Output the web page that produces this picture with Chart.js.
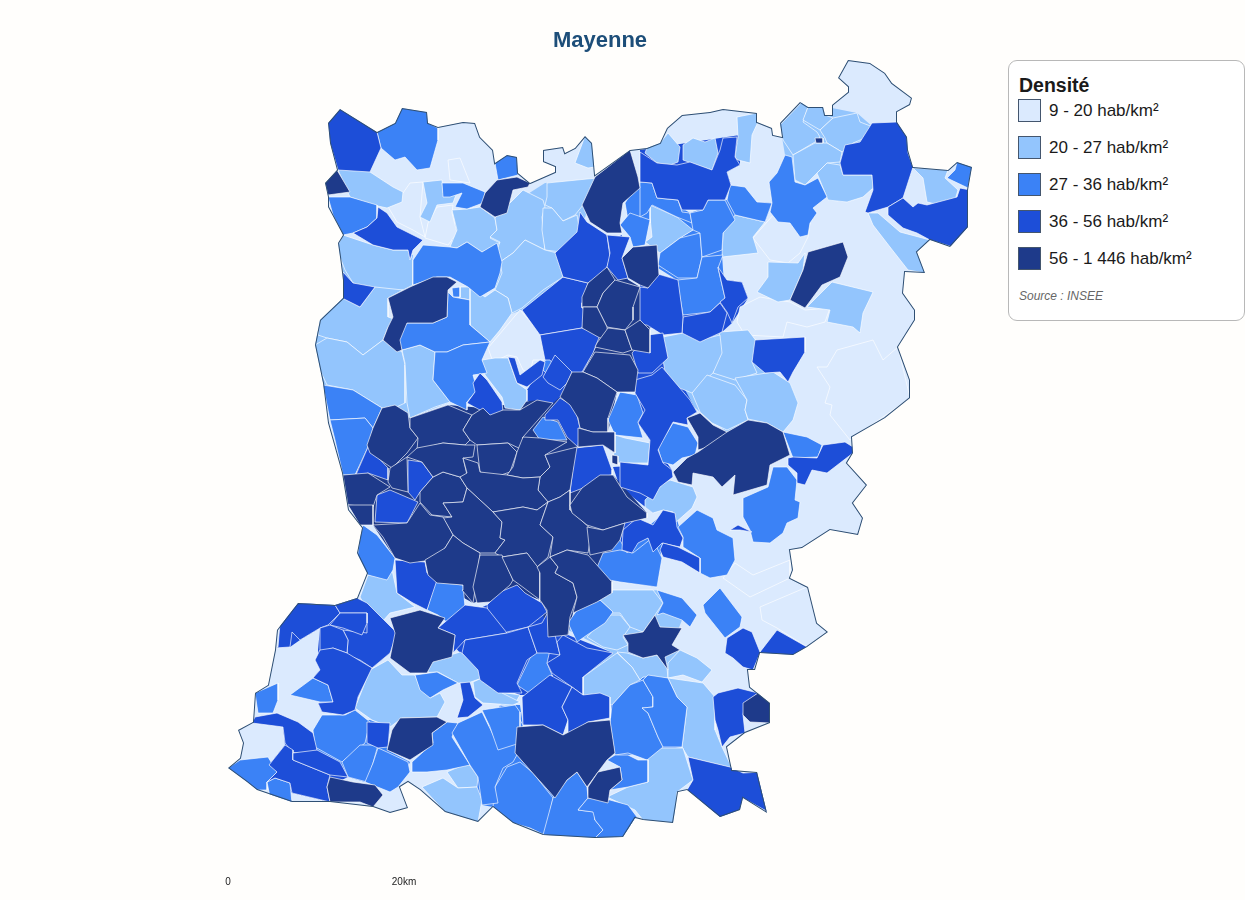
<!DOCTYPE html>
<html lang="fr">
<head>
<meta charset="utf-8">
<title>Mayenne</title>
<script src="https://cdn.jsdelivr.net/npm/chart.js@4"></script>
<style>
  html, body { margin: 0; padding: 0; background: #fffefc; width: 1245px; height: 900px; overflow: hidden; font-family: "Liberation Sans", Arial, sans-serif; }
  #carte { position: absolute; left: 0; top: 0; }
  #legende { position: absolute; left: 1008px; top: 60px; width: 235px; height: 259px; background: #fff; border: 1px solid #b8b8b8; border-radius: 9px; color: #1a1a1a; }
  #legende h3 { position: absolute; left: 10px; top: 13px; margin: 0; font-size: 19.5px; line-height: 22px; font-weight: bold; }
  .ligne { position: absolute; left: 9px; height: 23px; line-height: 23px; font-size: 17px; white-space: nowrap; }
  .ligne i { display: inline-block; width: 21px; height: 21px; border: 1px solid #44566e; vertical-align: top; margin-right: 8px; }
  #source { position: absolute; left: 10px; top: 228px; font-size: 12px; font-style: italic; color: #666; }
</style>
</head>
<body>
<canvas id="carte" width="1200" height="900"></canvas>
<div id="legende"><h3>Densité</h3><div id="lignes"></div><div id="source">Source : INSEE</div></div>
<script>
const classes = ["9 - 20 hab/km²", "20 - 27 hab/km²", "27 - 36 hab/km²", "36 - 56 hab/km²", "56 - 1 446 hab/km²"]
const couleurs = ["#dbeafe", "#93c5fd", "#3b82f6", "#1d4ed8", "#1e3a8a"]
const echelleValeurs = [228, 404]
const echelleLabels = ["0", "20km"]

// contour du departement (x, y en unites de carte)
const contour = [340,109,377,132,395,123,402,108,427,112,428,123,438,127,463,122,475,123,480,137,493,150,495,163,507,155,517,157,518,173,530,183,555,172,555,167,543,162,543,150,563,147,565,153,575,148,585,136,592,143,595,175,630,150,647,148,660,143,667,128,682,115,710,112,723,109,757,113,757,122,772,128,773,135,782,137,780,123,800,102,808,107,823,107,825,115,832,115,832,105,848,92,848,87,838,78,848,60,870,63,885,73,892,83,912,98,910,105,897,112,897,122,907,137,908,150,913,167,948,170,957,162,972,167,968,190,968,227,950,247,930,240,917,252,925,273,905,272,903,293,915,310,915,320,898,347,910,380,910,398,885,418,852,437,853,453,847,463,867,485,853,503,863,518,858,535,830,530,802,548,790,550,793,570,790,578,808,587,817,623,828,632,807,647,793,655,760,653,755,670,748,670,750,687,770,703,770,723,745,733,727,747,732,770,757,772,767,813,743,798,740,810,720,817,687,790,678,792,673,823,643,820,635,818,623,837,595,838,543,835,513,823,493,807,478,822,445,812,420,790,408,782,400,787,408,808,390,813,373,807,330,802,292,802,257,790,247,782,228,768,240,758,243,743,238,730,253,722,255,693,268,685,275,650,277,630,298,603,335,605,357,598,367,573,357,553,362,528,348,510,342,473,328,423,323,383,315,345,320,320,343,298,343,280,340,257,338,243,343,235,328,207,328,197,325,183,337,170,330,143,328,123]

// zones de fond sous les communes, pour boucher les joints
const fonds1 = [
  [495,215,545,183,598,180,580,232,563,277,522,310,500,318,495,290,497,250,482,252,452,240,457,210],
  [318,320,345,295,340,240,413,255,413,290,388,298,388,340,402,352,435,352,433,380,450,402,410,418,380,408,323,385,315,345],
  [568,630,600,600,657,590,682,620,672,645,680,650,668,680,640,680,612,705,583,695,583,677,613,653],
  [780,125,802,102,857,113,873,127,860,142,843,165,872,175,873,188,847,202,828,200,817,173,805,185,795,180,785,155],
  [663,337,720,332,757,342,752,362,790,383,798,403,783,432,748,420,727,432,700,412,667,383]
]
const fonds2 = [
  [470,765,500,705,520,705,523,725,515,753,530,770,555,798,588,798,608,803,637,817,623,837,545,835,493,807,482,805],
  [610,695,648,675,677,697,687,707,682,747,628,755,615,755],
  [313,730,370,720,390,727,387,750,410,762,398,787,365,782,348,777,317,750],
  [640,182,690,213,725,200,772,203,765,222,735,220,722,255,725,298,710,312,683,317,677,280,658,268,680,238,693,230,650,205],
  [593,577,603,553,620,540,650,525,662,515,675,513,683,540,662,543,660,560,657,587]
]
const fonds3 = [
  [438,628,487,605,547,610,568,635,613,653,583,677,583,695,520,695,480,680,462,655],
  [255,717,298,722,317,750,348,777,327,787,330,802,292,793,269,765,285,745,283,727],
  [298,603,357,598,397,633,390,653,372,668,358,697,355,712,322,712,318,703,333,702,328,685,313,678,320,670,318,650,320,628,300,640,290,647,278,647],
  [640,150,740,135,740,165,727,172,731,185,725,200,703,210,640,182],
  [610,240,622,235,622,258,628,280,620,280,607,267],
  [640,285,660,275,680,280,683,317,700,342,722,332,732,323,748,298,742,282,727,280,722,300,700,312,683,315,660,330,640,325],
  [632,353,668,358,697,412,687,418,673,422,658,450,672,470,660,487,653,513,620,487,613,467,648,465,650,440,638,423,635,393],
  [540,335,600,335,583,372,560,397,545,415,527,400,527,390,545,362]
]
const fonds4 = [
  [373,428,382,408,410,418,448,405,483,408,537,400,553,403,560,397,572,372,617,392,608,432,615,453,603,445,578,447,573,490,600,477,613,475,647,513,620,540,612,550,612,593,573,613,568,635,548,637,540,600,513,590,473,603,437,583,425,560,395,558,373,525,348,505,343,475,355,477],
  [582,283,607,267,640,287,650,330,650,353,638,370,635,392,617,392,583,372,597,345,582,328]
]

const classe0 = [
  [817,367,830,387,825,403,832,405,830,415,850,440,910,398,898,347,883,360,873,340,837,350,827,367],
  [760,607,807,587,817,623,828,632,807,647,777,628,762,620],
  [735,563,753,575,790,560,790,578,750,597,723,578],
  [448,160,460,158,470,183,450,180],
  [387,205,403,193,410,183,423,182,420,217,425,237,413,230,397,222],
  [428,223,437,207,453,205,452,213,457,233,448,245,425,238],
  [740,307,760,297,790,302,805,310,830,308,825,322,807,327,787,322,783,337,745,335,737,322],
  [753,238,767,222,775,213,810,223,808,237,800,253,788,263,770,260],
  [520,310,542,335,545,360,533,360,530,373,523,370,517,357,508,355,493,362,488,348]
]

const classe1 = [
  [338,170,362,165,370,172,393,187,403,192,402,202,387,208,373,205,350,197],
  [423,182,442,180,443,193,457,192,453,203,437,205,430,222,420,217,427,203],
  [575,163,585,136,592,143,595,167,588,168],
  [452,210,467,209,480,207,495,218,497,230,490,238,500,243,482,252,467,242,457,248,450,247,457,230],
  [495,218,510,203,523,190,543,200,545,207,542,217,545,250,525,240,513,253,500,262,497,250,500,242,490,237,497,230],
  [547,183,597,178,598,185,583,205,575,215,563,221,552,208,545,205,547,197],
  [543,208,552,208,563,221,577,215,580,232,570,253,545,250,542,230],
  [500,262,513,253,525,240,545,250,557,253,563,277,543,290,522,308,512,313,508,298,495,290,502,273],
  [470,287,485,297,495,290,508,298,512,313,500,330,490,342,470,325,468,300],
  [343,235,373,245,393,250,408,250,413,260,413,285,403,290,377,293,353,283,345,270,340,257,338,245],
  [343,298,360,307,375,287,403,290,388,298,388,317,397,320,388,327,383,340,363,355,347,342,327,338,318,335,320,320],
  [315,345,327,338,347,342,363,355,383,340,402,352,405,365,405,403,390,410,382,408,353,390,327,385,320,370],
  [402,350,420,345,435,352,433,380,450,402,435,407,410,418,407,403,405,363],
  [460,287,470,287,470,300,460,298],
  [482,360,495,358,508,358,517,383,527,390,527,400,520,410,505,408,502,397,485,375],
  [645,153,648,145,660,143,668,133,680,147,678,162,670,165,657,163],
  [683,145,693,138,705,142,715,138,718,153,712,170,697,165,683,160],
  [737,117,757,113,758,122,752,135,750,163,738,160,735,157,738,137],
  [650,205,677,217,693,230,680,238,660,253,645,242,652,237,650,217],
  [735,215,765,222,753,237,758,253,722,257,723,233],
  [780,125,802,102,808,107,803,122,817,132,820,137,815,142,793,155,783,140],
  [808,107,823,107,825,115,833,118,820,130,803,120],
  [820,130,833,118,857,113,860,122,873,127,872,135,853,143,842,152,827,143,825,138],
  [793,155,815,143,827,143,842,152,840,162,827,163,817,173,805,185,795,180],
  [817,173,827,163,840,165,843,175,872,175,873,188,863,197,847,202,828,200],
  [913,168,948,170,945,178,958,190,955,200,940,205,927,202,923,178],
  [868,213,878,213,900,232,930,240,917,252,925,273,908,270,890,247,873,225],
  [768,262,798,263,805,253,803,270,790,300,778,302,757,292,768,277],
  [807,307,832,282,873,292,863,313,860,333,853,327,827,322,830,310],
  [720,332,748,330,757,342,752,362,757,373,735,380,713,373],
  [663,337,683,333,700,340,720,335,722,353,713,373,705,380,692,393,667,383,663,360],
  [692,393,707,375,735,385,747,400,745,410,748,420,727,430,712,423,700,412],
  [735,378,773,372,790,383,798,403,793,420,783,432,767,423,748,419,745,410,747,400],
  [615,435,625,438,650,443,648,463,613,463],
  [645,500,660,485,670,480,693,487,697,497,692,508,675,523,673,512,663,510,653,513,645,507],
  [368,575,387,578,392,570,397,593,415,607,390,613,382,622,370,615,360,597],
  [500,692,520,695,513,707,500,705],
  [600,600,613,590,653,590,663,603,655,615,643,632,630,627,620,613,607,613,613,612],
  [587,637,607,615,620,615,630,627,623,637,628,645,617,650,603,647],
  [617,652,627,653,643,658,657,655,667,668,668,678,643,677,640,680,632,667],
  [668,663,680,650,697,658,712,670,702,682,683,675,668,678],
  [583,677,617,653,632,667,640,680,630,685,612,705,583,695],
  [668,678,703,683,715,697,715,730,722,747,732,768,688,757,682,747,687,707,677,697],
  [648,753,657,748,683,748,693,780,677,792,675,823,643,820,635,810,607,797,628,787,648,782],
  [428,662,460,652,483,668,482,678,468,683,458,683,438,672,415,673,428,672],
  [388,660,402,675,415,675,420,688,430,698,440,693,445,702,437,717,402,718,390,727,372,720,355,708,370,670],
  [473,682,482,678,497,682,502,693,520,702,513,705,483,703,475,697],
  [447,772,468,763,478,777,477,787,458,788],
  [422,787,443,778,458,788,477,787,482,800,478,822,445,812]
]

const classe2 = [
  [377,132,395,123,402,108,427,112,428,123,438,128,438,140,430,168,417,170,405,157,395,160,381,148],
  [328,197,350,197,377,205,377,218,367,227,353,233,343,235,333,215],
  [442,183,463,183,485,192,483,203,467,209,455,207,462,193,450,197,443,197],
  [495,163,507,155,517,157,518,175,498,180],
  [413,260,423,245,450,247,457,248,467,242,482,252,497,243,502,262,500,273,495,288,480,297,468,287,450,277,437,277,413,285],
  [452,288,460,287,460,297,453,297],
  [397,338,407,323,433,323,447,317,448,292,453,297,470,300,470,325,490,342,463,345,447,352,435,352,420,345,402,350],
  [435,352,447,352,463,345,490,342,482,360,487,373,473,375,477,390,467,402,467,410,450,402,433,380],
  [545,360,552,358,557,370,548,375,543,370],
  [625,203,638,183,650,203,650,223,628,220],
  [620,225,630,213,650,220,645,245,633,247,630,237],
  [640,182,652,183,657,198,678,200,682,212,690,213,692,223,677,217,652,205,647,213,640,217],
  [660,253,680,238,700,233,702,257,697,278,678,278,658,265],
  [690,213,703,210,708,200,725,200,735,220,723,233,722,250,702,257,700,233,693,230],
  [727,200,730,185,745,187,757,202,772,203,765,222,735,215],
  [702,257,723,255,718,268,725,298,710,312,683,315,677,280,697,278],
  [785,155,792,157,795,182,805,185,818,178,827,197,813,208,817,213,810,223,808,235,800,237,790,223,778,222,770,212,772,203,769,182,777,173],
  [957,162,972,167,968,188,947,178,955,170],
  [608,420,620,392,637,395,643,413,638,422,643,438,615,435],
  [658,448,673,423,688,427,698,443,695,455,682,458,673,465,662,462],
  [533,430,543,417,558,422,567,440,540,440],
  [323,385,353,390,382,408,373,428,365,418,330,420],
  [330,420,365,418,373,428,368,447,355,475,343,475,335,440],
  [363,525,377,535,395,558,393,570,387,580,368,575,357,560,360,537],
  [435,582,463,585,465,607,467,620,453,627,438,615,427,610],
  [517,685,530,658,540,648,550,650,547,663,552,675,552,685,535,697],
  [568,623,577,610,600,600,613,612,605,623,587,635,577,642],
  [593,577,603,553,620,550,633,553,652,538,662,558,657,587,620,582],
  [657,590,682,598,697,615,690,627,682,620,663,613,657,615,663,603],
  [703,605,720,588,742,617,740,627,725,638,705,613],
  [612,705,630,685,643,680,653,697,653,707,642,708,648,713,658,737,663,747,647,760,628,753,615,755,610,723],
  [643,680,648,675,668,678,677,697,687,707,682,747,663,747,658,737,648,713,642,708,653,707,653,697],
  [607,760,615,755,628,755,638,760,648,760,648,782,628,787,610,790,622,780,620,767],
  [500,705,513,708,523,725,515,753,500,748],
  [493,807,495,787,507,767,520,762,533,773,553,798,545,835,530,828,513,823],
  [553,798,567,780,577,772,587,787,588,798,578,810,595,812,595,820,603,830,595,838,543,835],
  [588,798,610,800,628,805,637,817,623,837,595,838,603,830,595,820,593,812,578,810],
  [290,695,313,678,328,685,333,702,320,702],
  [255,693,278,683,278,700,273,713,258,713],
  [415,675,437,672,458,683,443,690,430,698,420,690],
  [313,730,322,715,345,715,355,710,370,722,365,743,342,762,315,747],
  [228,768,240,760,268,757,277,772,267,782,267,790,257,790,247,782],
  [267,782,275,778,290,783,292,803,270,797],
  [342,762,360,745,378,745,373,763,367,782,348,777],
  [378,748,387,752,408,762,410,772,398,787,390,792,365,782,373,763],
  [412,762,433,743,432,733,447,722,458,723,452,737,470,765,447,770,427,772,412,772],
  [452,733,458,723,482,712,497,743,517,743,518,753,513,762,503,768,495,787,498,803,482,805,478,777,470,765],
  [482,710,515,705,520,712,520,743,498,750,490,727],
  [783,432,807,437,822,445,818,457,793,458],
  [743,498,768,487,773,467,787,467,797,480,795,500,800,502,798,518,787,523,783,533,770,543,753,542,750,530,743,517],
  [678,527,697,510,713,518,717,530,733,538,735,560,727,575,710,578,700,573,700,558,683,547,683,537]
]

const classe3 = [
  [340,109,377,132,381,148,370,172,338,170,330,143,328,123],
  [353,233,367,227,377,218,378,207,387,213,397,227,423,240,413,250,410,260,408,250,393,250,373,245],
  [343,272,353,283,375,287,360,307,342,298],
  [522,310,563,277,588,283,582,303,582,308,587,310,582,328,540,335],
  [555,253,577,232,580,212,587,222,607,235,610,257,607,267,597,277,588,283,563,277],
  [540,335,582,328,600,335,593,353,582,372,567,383,550,360,545,360],
  [543,377,555,355,572,372,567,383,560,390,548,383],
  [508,357,515,358,520,375,540,360,545,362,542,375,527,387,517,383],
  [473,383,480,373,487,380,502,402,503,412,488,417,480,410,467,403,475,392],
  [607,235,630,237,622,258,628,278,618,280,607,267,610,253],
  [640,152,657,163,677,165,690,162,712,170,720,150,723,138,737,137,735,157,740,165,727,172,731,185,725,200,708,200,703,210,682,210,678,200,657,198,652,183,640,182],
  [718,267,727,280,742,282,748,298,738,307,732,323,727,312,720,302,725,298],
  [683,317,710,312,720,303,727,313,722,332,700,342,682,333],
  [658,274,678,280,683,317,682,333,663,335,647,325,640,325,640,287,648,288],
  [632,353,648,335,663,333,668,358,652,373,638,373],
  [845,145,860,142,872,123,897,122,907,137,908,153,913,167,903,198,888,207,868,213,865,212,873,190,872,175,843,175,840,163],
  [888,207,903,198,913,207,918,203,927,205,957,197,960,188,970,190,970,227,953,247,930,240,917,233,903,228,888,215],
  [755,340,805,337,805,352,793,372,788,382,780,372,765,373,752,362],
  [635,380,652,375,662,367,690,400,697,412,687,418,688,425,673,422,658,450,663,463,672,470,673,477,660,487,653,500,640,493,620,487,620,462,648,465,650,440,638,423,645,410,635,393],
  [575,448,603,445,612,470,612,475,600,477,583,488,570,493,573,467],
  [545,415,560,398,575,407,580,428,578,447,567,437,558,420,545,420],
  [408,460,422,462,433,477,420,492,415,500,408,492],
  [355,477,368,447,388,468,388,480,368,473],
  [377,495,390,490,418,502,407,523,375,522],
  [625,520,650,523,650,537,635,543,627,553,620,540],
  [395,560,425,562,427,573,438,577,427,610,413,603,397,593],
  [487,605,500,592,517,585,525,593,542,603,547,612,528,627,507,632,497,640,490,625],
  [438,628,465,605,487,608,507,633,465,640,453,653,455,635],
  [465,640,507,633,528,627,537,653,527,660,517,683,522,693,498,693,480,680,478,670,462,653],
  [528,627,542,623,548,612,555,635,560,655,547,653,537,653],
  [547,663,560,655,557,642,563,635,587,648,613,653,583,677,583,695,572,687,552,673],
  [718,693,738,688,758,693,745,703,743,715,745,733,730,737,722,747,718,730,715,720,713,697],
  [688,757,730,767,743,773,762,772,770,813,743,798,740,810,720,818,697,798,687,790,693,780],
  [522,697,550,675,572,687,562,707,568,720,563,735,543,725,523,725],
  [572,687,583,695,600,693,610,697,610,718,588,722,568,735,568,720,562,707],
  [278,647,280,623,298,603,335,605,340,613,328,625,320,628,300,640,292,632,290,647,275,648],
  [335,605,357,598,367,603,387,623,397,633,390,653,372,668,360,660,347,655,348,640,343,630,367,633,367,613,340,613],
  [330,625,340,613,367,613,367,623,362,635,343,628],
  [320,628,330,625,343,630,348,640,347,653,333,648,320,652,320,640],
  [320,650,333,648,347,653,372,668,358,697,355,710,343,715,322,712,318,703,333,702,328,685,313,678,320,670,315,660],
  [460,683,470,682,475,698,483,705,468,717,457,718,463,700],
  [367,722,390,723,388,747,378,748,367,743],
  [255,717,277,713,298,722,313,733,317,750,307,755,292,752,285,743,283,727,252,723],
  [269,765,285,745,293,750,293,760,330,775,327,787,330,802,292,793,290,783,275,778,267,782,277,772],
  [293,753,317,750,340,762,348,777,330,775,293,760],
  [788,458,793,457,817,458,823,445,845,442,853,447,853,453,827,473,812,470,805,485,797,483,797,473,788,465],
  [623,530,637,518,653,525,663,510,675,513,677,527,683,538,680,547,662,543,653,552,648,538,638,543,632,553,622,550],
  [660,550,663,543,678,547,700,558,700,573,682,562,663,557],
  [730,530,738,525,752,532,740,530],
  [725,653,727,638,743,628,752,632,760,652,777,630,807,647,793,655,760,653,753,670,743,667,733,658]
]

const classe4 = [
  [337,170,350,192,328,195,325,183],
  [485,193,497,180,517,177,530,183,528,187,513,190,507,213,495,217,480,207],
  [630,150,638,177,640,188,623,203,620,223,622,233,607,233,590,222,582,205,595,177],
  [622,258,633,247,657,245,659,275,648,288,640,285,628,278],
  [388,298,410,287,433,277,447,277,457,282,448,290,447,317,433,323,407,323,400,340,402,350,397,352,383,340,388,327,393,317],
  [588,283,607,267,615,280,603,293,597,307,582,307,582,297],
  [615,280,640,287,633,307,633,320,625,330,607,327,597,307,603,293],
  [583,307,597,307,607,327,608,338,600,338,582,328],
  [597,343,608,328,625,330,632,350,623,353,595,347],
  [625,330,640,320,650,330,650,353,632,350],
  [583,372,595,352,630,355,638,370,635,392,617,392,597,378],
  [815,138,823,138,823,143,816,143],
  [808,252,843,242,848,257,840,277,822,285,805,308,790,300,803,270],
  [687,418,700,413,713,425,727,432,725,442,698,450,698,437],
  [673,472,687,458,698,452,727,432,748,420,767,423,783,432,790,455,770,465,767,485,733,495,735,475,722,487,713,477,693,473,692,485,678,482],
  [612,455,618,456,618,465,612,463],
  [373,428,382,408,395,405,408,413,410,428,418,438,407,453,392,468,370,453,367,445],
  [410,418,448,405,472,415,463,430,470,440,465,445,443,443,417,450,418,438,410,428],
  [472,415,483,408,490,415,503,410,520,410,537,400,553,403,538,420,523,437,523,450,508,443,477,445,470,440,463,430],
  [560,397,572,372,583,372,597,378,617,392,608,418,608,432,592,432,580,428,578,418,570,405],
  [578,428,593,432,615,432,615,453,603,445,578,447],
  [390,468,407,457,408,492,392,488,388,482],
  [343,475,368,473,390,487,377,495,373,507,348,505],
  [348,505,373,505,373,525,360,525],
  [420,492,433,477,443,472,460,477,467,488,463,502,443,503,452,517,432,515,420,502],
  [417,448,443,443,465,445,475,445,473,457,463,458,467,475,460,477,443,472,433,477,422,462,407,457],
  [477,445,508,443,517,452,510,472,495,477,480,472,478,455],
  [517,452,523,437,540,438,567,442,545,455,550,467,540,477,523,478,507,475,513,467],
  [545,455,577,447,570,490,560,497,548,502,538,490,540,477,550,467],
  [463,458,478,463,480,472,507,475,523,478,540,477,538,490,548,502,537,510,523,507,493,512,480,500,467,488,460,477,467,473],
  [467,488,480,500,493,512,502,522,500,538,505,540,495,553,480,553,463,543,453,535,443,518,452,517,443,503,463,502],
  [493,512,523,507,537,510,548,502,540,525,553,537,548,557,537,567,527,553,502,557,495,553,505,540,500,538,502,522],
  [548,502,560,497,570,490,570,510,592,530,588,553,567,550,550,557,553,537,540,525],
  [570,505,582,488,600,475,613,475,627,497,647,513,647,518,625,523,603,530,587,525,572,513],
  [587,527,603,530,625,523,620,540,612,550,590,555],
  [373,525,407,523,420,503,430,515,443,517,453,535,445,548,432,560,410,563,395,558,383,537],
  [425,560,445,548,453,535,463,543,480,553,477,577,473,603,462,590,463,585,437,583,428,575],
  [480,555,502,555,513,580,510,585,490,602,477,603,473,587],
  [502,557,527,553,540,570,540,600,520,585,513,580],
  [537,567,550,557,558,567,555,573,573,583,577,597,570,617,568,635,548,637,547,610,540,600,540,573],
  [567,550,588,555,612,582,612,593,597,602,573,613,577,597,573,583,555,573,558,567,550,557],
  [623,635,643,632,655,615,660,627,682,628,672,645,680,650,665,657,668,670,657,655,643,658,628,652,628,643],
  [743,703,758,693,770,703,770,723,750,722,743,715],
  [390,618,420,610,445,618,438,628,455,635,452,657,433,662,427,673,410,673,390,658,395,633],
  [392,730,400,718,437,717,447,722,432,733,433,745,410,760,387,750],
  [330,777,353,782,375,785,383,795,373,807,360,802,330,802,327,787],
  [517,727,543,725,563,735,588,722,610,720,615,753,607,760,598,772,587,787,577,772,567,780,555,798,530,770,515,753],
  [588,787,598,772,620,767,622,780,610,790,608,803,588,798]
]

// liste plate -> points {x, y}, polygone ferme
const enPoints = (liste) => {
  const pts = []
  for (let i = 0; i < liste.length; i += 2) pts.push({ x: liste[i], y: liste[i + 1] })
  pts.push(pts[0])
  return pts
}

const datasets = []
const ajouter = (liste, fillColor, lineColor, lineWidth) => {
  datasets.push({
    data: enPoints(liste),
    showLine: true,
    fill: fillColor ? "shape" : false,
    backgroundColor: fillColor || "transparent",
    borderColor: lineColor,
    borderWidth: lineWidth,
    pointRadius: 0,
    tension: 0,
    clip: false
  })
}

const traitBlanc = "rgba(255,255,255,0.72)"
ajouter(contour, couleurs[0], "transparent", 0)
;[null, fonds1, fonds2, fonds3, fonds4].forEach((liste, i) => {
  if (liste) liste.forEach(poly => ajouter(poly, couleurs[i], "transparent", 0))
})
;[classe0, classe1, classe2, classe3, classe4].forEach((liste, i) => {
  liste.forEach(poly => ajouter(poly, couleurs[i], traitBlanc, 0.9))
})
ajouter(contour, null, "#2f4f73", 2)
// le premier dessine doit etre le fond : ordre decroissant
datasets.forEach((d, i) => { d.order = datasets.length - i })

// tout est coupe sur le contour pour ne pas deborder
const coupeContour = {
  id: "coupeContour",
  beforeDatasetsDraw(chart) {
    const { ctx, scales } = chart
    ctx.save()
    ctx.beginPath()
    enPoints(contour).forEach((p, i) => {
      const x = scales.x.getPixelForValue(p.x)
      const y = scales.y.getPixelForValue(p.y)
      if (i === 0) ctx.moveTo(x, y)
      else ctx.lineTo(x, y)
    })
    ctx.closePath()
    ctx.clip()
  },
  afterDatasetsDraw(chart) {
    chart.ctx.restore()
  }
}

const echelle = {
  id: "echelle",
  afterDraw(chart) {
    const { ctx, scales } = chart
    ctx.save()
    ctx.font = "10px 'Liberation Sans', Arial, sans-serif"
    ctx.fillStyle = "#222"
    ctx.textAlign = "center"
    ctx.textBaseline = "middle"
    echelleValeurs.forEach((v, i) => {
      ctx.fillText(echelleLabels[i], scales.x.getPixelForValue(v), scales.y.getPixelForValue(882))
    })
    ctx.restore()
  }
}

new Chart(document.getElementById("carte"), {
  type: "scatter",
  data: { datasets },
  plugins: [coupeContour, echelle],
  options: {
    responsive: false,
    animation: false,
    events: [],
    layout: { padding: 0 },
    scales: {
      x: { display: false, min: 0, max: 1200 },
      y: { display: false, reverse: true, min: 54.4, max: 900 }
    },
    plugins: {
      legend: { display: false },
      tooltip: { enabled: false },
      title: {
        display: true,
        text: "Mayenne",
        color: "#1d4e79",
        font: { family: "'Liberation Sans', Arial, sans-serif", size: 22, weight: "bold" },
        padding: { top: 28, bottom: 0 }
      }
    }
  }
})

const lignes = document.getElementById("lignes")
classes.forEach((texte, i) => {
  const div = document.createElement("div")
  div.className = "ligne"
  div.style.top = (38 + i * 37) + "px"
  const carre = document.createElement("i")
  carre.style.background = couleurs[i]
  div.appendChild(carre)
  div.appendChild(document.createTextNode(texte))
  lignes.appendChild(div)
})
</script>
</body>
</html>
